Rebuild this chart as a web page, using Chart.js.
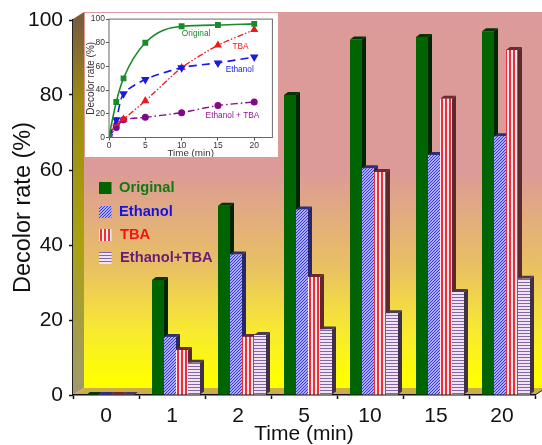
<!DOCTYPE html>
<html><head><meta charset="utf-8">
<style>html,body{margin:0;padding:0;background:#fff;width:542px;height:445px;overflow:hidden}
#main{position:absolute;left:0;top:0;filter:blur(0.45px)}#inset{position:absolute;left:85px;top:13px;filter:blur(0.5px)}</style>
<script src="https://cdn.jsdelivr.net/npm/chart.js@4/dist/chart.umd.min.js"></script>
</head><body>
<canvas id="main" width="542" height="445"></canvas>
<canvas id="inset" width="193" height="144"></canvas>
<script>
const categories = ['0','1','2','5','10','15','20'];
const original   = [0,30.7,50.5,80,94.8,95.5,97];
const ethanol    = [0,15.5,37.5,49.5,60.5,64,69];
const tba        = [0,12,15.5,31.5,59.5,79,92];
const ethanolTba = [0,8.6,16,17.5,21.8,27.5,31];
const yTicksStep = 20;

const insetTimes      = [0,1,2,5,10,15,20];
const insetOriginal   = [1,30,50,80,94,95,96];
const insetEthanol    = [1,15,37,49,59,63,68];
const insetTba        = [1,12,15.5,31,59,78,91];
const insetEthanolTba = [1,8.5,15,17,21,27,30];

const FONT = '"Liberation Sans", Arial, sans-serif';
function tile(w,h,paint){const c=document.createElement('canvas');c.width=w;c.height=h;paint(c.getContext('2d'));
  return document.createElement('canvas').getContext('2d').createPattern(c,'repeat');}
const blueP = tile(3,3,g=>{g.fillStyle='#aeaef8';g.fillRect(0,0,3,3);g.fillStyle='#3434e2';
  [[0,2],[1,1],[2,0]].forEach(p=>g.fillRect(p[0],p[1],1,1));});
const redP = tile(4,4,g=>{g.fillStyle='#fdeaea';g.fillRect(0,0,4,4);g.fillStyle='#f02c3c';g.fillRect(1,0,2,4);});
const purpP = tile(3,3,g=>{g.fillStyle='#efe4f2';g.fillRect(0,0,3,3);g.fillStyle='#8664a6';g.fillRect(0,0,3,1);});

const sideCol = ['#022402','#262668','#5c2a2c','#3f3048'];
const topCol  = ['#033403','#2e2e7c','#6e2a30','#4a3a5a'];
const DX=4, DY=3, WX=11, WY=7, SHIFT=4;

const scene = {
  id:'scene',
  beforeDraw(c){
    const g=c.ctx,a=c.chartArea,l=a.left,r=a.right,t=a.top,b=a.bottom;
    let gr=g.createLinearGradient(0,t-WY,0,b-WY);
    gr.addColorStop(0,'#dc9a9a');gr.addColorStop(0.42,'#dc9a98');gr.addColorStop(0.68,'#e9c162');
    gr.addColorStop(0.85,'#f8ea30');gr.addColorStop(0.98,'#ffff00');gr.addColorStop(1,'#ffff00');
    g.fillStyle=gr;g.fillRect(l+WX,t-WY-1,c.width-l-WX,b-t+1);
    gr=g.createLinearGradient(0,t,0,b);
    gr.addColorStop(0,'#7a5c3c');gr.addColorStop(0.22,'#9c8c14');gr.addColorStop(0.6,'#aaa210');gr.addColorStop(1,'#a09a70');
    g.fillStyle=gr;g.beginPath();g.moveTo(l,t-1);g.lineTo(l+WX,t-WY-1);g.lineTo(l+WX,b-WY);g.lineTo(l,b);g.closePath();g.fill();
    g.fillStyle='#c9ae4a';g.beginPath();g.moveTo(l,b);g.lineTo(l+WX,b-WY);g.lineTo(r+WX,b-WY);g.lineTo(r,b);g.closePath();g.fill();
    g.strokeStyle='#222';g.lineWidth=1;g.beginPath();g.moveTo(l-0.5,t-1);g.lineTo(l-0.5,b);g.stroke();
    g.beginPath();g.moveTo(r,b);g.lineTo(r+7,b-4.5);g.stroke();
  },
  beforeDatasetsDraw(c){
    const g=c.ctx;g.save();g.translate(SHIFT,0);
    const metas=c.data.datasets.map((d,i)=>c.getDatasetMeta(i));
    categories.forEach((_,k)=>{
      metas.forEach((m,i)=>{
        const p=m.data[k].getProps(['x','y','base','width'],true),L=p.x-p.width/2,R=p.x+p.width/2;
        g.fillStyle=sideCol[i];g.beginPath();g.moveTo(R,p.y);g.lineTo(R+DX,p.y-DY);g.lineTo(R+DX,p.base-DY);g.lineTo(R,p.base);g.closePath();g.fill();
        g.fillStyle=topCol[i];g.beginPath();g.moveTo(L,p.y);g.lineTo(L+DX,p.y-DY);g.lineTo(R+DX,p.y-DY);g.lineTo(R,p.y);g.closePath();g.fill();
      });
    });
  },
  afterDatasetsDraw(c){c.ctx.restore();},
  afterDraw(c){
    const g=c.ctx,cols=['#107a10','#1414e0','#f01414','#6a1a78'],ys=[188,212,235,258],tx=[119,119,120,120];
    c.data.datasets.forEach((d,i)=>{
      g.fillStyle=d.backgroundColor;g.save();g.translate(99,ys[i]-6);g.fillRect(0,0,12.5,12);g.restore();
      g.fillStyle=cols[i];g.font='bold 14.7px '+FONT;g.textAlign='left';g.textBaseline='middle';g.fillText(d.label,tx[i],ys[i]);
    });
  }
};

new Chart(document.getElementById('main'),{
  type:'bar',
  data:{labels:categories,datasets:[
    {label:'Original',data:original,backgroundColor:'#006400'},
    {label:'Ethanol',data:ethanol,backgroundColor:blueP},
    {label:'TBA',data:tba,backgroundColor:redP},
    {label:'Ethanol+TBA',data:ethanolTba,backgroundColor:purpP}
  ]},
  options:{
    responsive:false,animation:false,devicePixelRatio:1,
    layout:{padding:{top:20,right:7,left:0,bottom:0}},
    plugins:{legend:{display:false},tooltip:{enabled:false}},
    datasets:{bar:{categoryPercentage:48/66,barPercentage:1,borderWidth:0}},
    scales:{
      x:{afterFit(s){s.height=50;},
        grid:{display:true,drawOnChartArea:false,drawTicks:true,tickLength:4,tickColor:'#111',tickWidth:1.5,offset:true},
        border:{display:true,color:'#111',width:1.5},
        ticks:{color:'#111',font:{family:FONT,size:21},padding:5,maxRotation:0,autoSkip:false},
        title:{display:true,text:'Time (min)',color:'#111',font:{family:FONT,size:21,lineHeight:1},padding:{top:0,bottom:0}}},
      y:{min:0,max:100,afterFit(s){s.width=73;},
        grid:{display:true,drawOnChartArea:false,drawTicks:true,tickLength:4,tickColor:'#111',tickWidth:1.5},
        border:{display:false},
        ticks:{stepSize:yTicksStep,color:'#111',font:{family:FONT,size:21},padding:6},
        title:{display:true,text:'Decolor rate (%)',color:'#111',font:{family:FONT,size:23.5},padding:{top:9,bottom:0}}}
    }
  },
  plugins:[scene]
});

const insetDecor = {
  id:'insetDecor',
  beforeDraw(c){c.ctx.fillStyle='#fff';c.ctx.fillRect(0,0,c.width,c.height);},
  afterDraw(c){
    const g=c.ctx,a=c.chartArea,x=c.scales.x,y=c.scales.y;
    g.strokeStyle='#666';g.lineWidth=1;g.strokeRect(a.left,a.top,a.right-a.left,a.bottom-a.top);
    [['Original',12,88,'#1a8a2a'],['TBA',18.1,77,'#f01818'],['Ethanol',18,57,'#1a1ae0'],['Ethanol + TBA',17,18.7,'#8a1a90']].forEach(n=>{
      g.fillStyle=n[3];g.font='8.3px '+FONT;g.textAlign='center';g.textBaseline='middle';g.fillText(n[0],x.getPixelForValue(n[1]),y.getPixelForValue(n[2]));
    });
  }
};
const pts=v=>v.map((y,i)=>({x:insetTimes[i],y}));
new Chart(document.getElementById('inset'),{
  type:'line',
  data:{datasets:[
    {label:'Original',data:pts(insetOriginal),borderColor:'#1a8a2a',backgroundColor:'#1a8a2a',pointStyle:'rect',pointRadius:3,cubicInterpolationMode:'monotone',borderWidth:1.6},
    {label:'Ethanol',data:pts(insetEthanol),borderColor:'#1a1ae0',backgroundColor:'#1a1ae0',pointStyle:'triangle',pointRotation:180,pointRadius:3.4,borderDash:[8,5],tension:0.25,borderWidth:1.6},
    {label:'TBA',data:pts(insetTba),borderColor:'#f01818',backgroundColor:'#f01818',pointStyle:'triangle',pointRadius:3.4,borderDash:[6,2,1.5,2,1.5,2],tension:0.2,borderWidth:1.3},
    {label:'Ethanol + TBA',data:pts(insetEthanolTba),borderColor:'#800a88',backgroundColor:'#800a88',pointStyle:'circle',pointRadius:2.8,borderDash:[7,3,1.5,3],tension:0.2,borderWidth:1.4}
  ]},
  options:{
    responsive:false,animation:false,devicePixelRatio:1,
    layout:{padding:{top:4.5,right:2,left:0,bottom:0}},
    plugins:{legend:{display:false},tooltip:{enabled:false}},
    scales:{
      x:{type:'linear',min:0,max:22.5,afterFit(s){s.height=19.5;},
        afterBuildTicks(s){s.ticks=insetTimes.filter(t=>t%5===0).map(v=>({value:v}));},
        grid:{display:true,drawOnChartArea:false,tickLength:3,tickColor:'#555'},border:{display:false},
        ticks:{color:'#333',font:{family:FONT,size:8.5},padding:0,maxRotation:0,autoSkip:false},
        title:{display:true,text:'Time (min)',color:'#333',font:{family:FONT,size:9.8,lineHeight:0.8},padding:0}},
      y:{min:0,max:100,afterFit(s){s.width=24;},
        grid:{display:true,drawOnChartArea:false,tickLength:3,tickColor:'#555'},border:{display:false},
        ticks:{stepSize:20,color:'#333',font:{family:FONT,size:8.5},padding:1},
        title:{display:true,text:'Decolor rate (%)',color:'#333',font:{family:FONT,size:10},padding:{top:0,bottom:0}}}
    }
  },
  plugins:[insetDecor]
});
</script>
</body></html>
